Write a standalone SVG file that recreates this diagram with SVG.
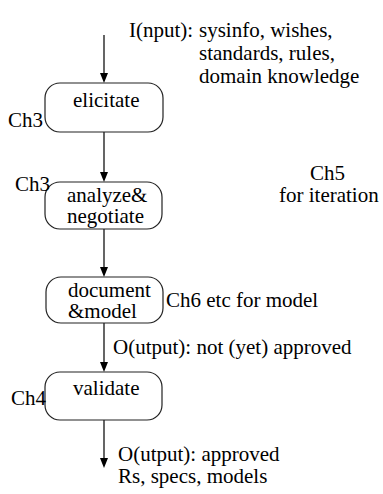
<svg xmlns="http://www.w3.org/2000/svg" width="383" height="494" viewBox="0 0 383 494">
<style>
.box{fill:#fff;stroke:#222;stroke-width:1.2}
.edge{stroke:#000;stroke-width:1.2;fill:none}
.head{fill:#000;stroke:none}
</style>
<rect width="383" height="494" fill="#fff"/>
<g id="connectors">
<path class="edge" d="M104,35V75M104,132V174M104,229V269M104,323V364M104,420V460"/>
<path class="head" d="M100,73L104,83L108,73ZM100,172L104,182L108,172ZM100,267L104,277L108,267ZM100,362L104,372L108,362ZM100,458L104,468L108,458Z"/>
</g>
<g id="elicitate">
<rect class="box" x="45" y="83" width="118" height="49" rx="15"/>
</g>
<g id="analyze">
<rect class="box" x="45" y="182" width="117" height="47" rx="15"/>
</g>
<g id="document">
<rect class="box" x="46" y="277" width="117" height="46" rx="15"/>
</g>
<g id="validate">
<rect class="box" x="45" y="372" width="117" height="48" rx="15"/>
</g>
<text x="129" y="37" font-family="Times New Roman" font-size="21">I(nput):</text>
<text x="199" y="37" font-family="Times New Roman" font-size="21">sysinfo, wishes,</text>
<text x="199" y="60" font-family="Times New Roman" font-size="21">standards, rules,</text>
<text x="199" y="83" font-family="Times New Roman" font-size="21">domain knowledge</text>
<text x="73" y="107" font-family="Times New Roman" font-size="21">elicitate</text>
<text x="8" y="127" font-family="Times New Roman" font-size="21">Ch3</text>
<text x="67" y="202" font-family="Times New Roman" font-size="21">analyze&amp;</text>
<text x="67" y="223" font-family="Times New Roman" font-size="21">negotiate</text>
<text x="15" y="191" font-family="Times New Roman" font-size="21">Ch3</text>
<text x="310" y="180" font-family="Times New Roman" font-size="21">Ch5</text>
<text x="279" y="202" font-family="Times New Roman" font-size="21">for iteration</text>
<text x="68" y="297" font-family="Times New Roman" font-size="21">document</text>
<text x="68" y="318" font-family="Times New Roman" font-size="21">&amp;model</text>
<text x="166" y="307" font-family="Times New Roman" font-size="21">Ch6 etc for model</text>
<text x="113" y="354" font-family="Times New Roman" font-size="21">O(utput): not (yet) approved</text>
<text x="73" y="395" font-family="Times New Roman" font-size="21">validate</text>
<text x="11" y="405" font-family="Times New Roman" font-size="21">Ch4</text>
<text x="118" y="461" font-family="Times New Roman" font-size="21">O(utput): approved</text>
<text x="118" y="483" font-family="Times New Roman" font-size="21">Rs, specs, models</text>
</svg>
